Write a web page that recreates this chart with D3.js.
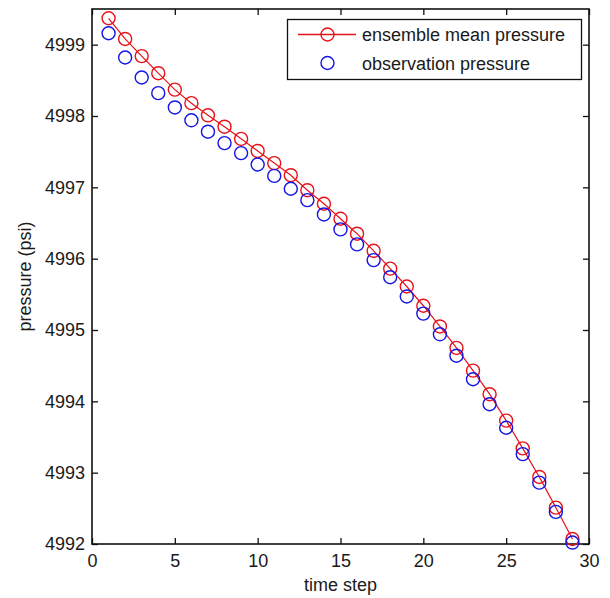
<!DOCTYPE html>
<html>
<head>
<meta charset="utf-8">
<script src="https://cdn.jsdelivr.net/npm/d3@7"></script>
<style>
  body { margin: 0; background: #fff; }
  text { font-family: "Liberation Sans", Arial, sans-serif; fill: #1a1a1a; }
</style>
</head>
<body>
<svg id="svg" width="610" height="598"></svg>
<script>
// time steps
const timeSteps = d3.range(1, 30);
// ensemble mean pressure (psi)
const ensembleMean = [
  4999.37, 4999.08, 4998.84, 4998.60, 4998.37, 4998.18, 4998.01, 4997.85,
  4997.68, 4997.51, 4997.34, 4997.17, 4996.96, 4996.77, 4996.56, 4996.35,
  4996.11, 4995.86, 4995.61, 4995.34, 4995.05, 4994.75, 4994.43, 4994.10,
  4993.73, 4993.34, 4992.94, 4992.51, 4992.07
];
// observation pressure (psi)
const observation = [
  4999.16, 4998.82, 4998.54, 4998.32, 4998.12, 4997.94, 4997.78, 4997.62,
  4997.48, 4997.32, 4997.16, 4996.98, 4996.82, 4996.62, 4996.41, 4996.20,
  4995.98, 4995.74, 4995.47, 4995.23, 4994.94, 4994.64, 4994.31, 4993.96,
  4993.63, 4993.26, 4992.86, 4992.45, 4992.02
];
const xTicks = [0, 5, 10, 15, 20, 25, 30];
const yTicks = [4992, 4993, 4994, 4995, 4996, 4997, 4998, 4999];
const legendLabels = ["ensemble mean pressure", "observation pressure"];

const svg = d3.select("#svg");
const plotLeft = 92, plotTop = 9, plotRight = 589, plotBottom = 544;

const x = d3.scaleLinear().domain([0, 30]).range([plotLeft, plotRight]);
const y = d3.scaleLinear().domain([4992, 4999.5]).range([plotBottom, plotTop]);

//軸
const fontSize = 18;
const tick = 6;
svg.append("g")
  .attr("transform", `translate(0,${plotBottom})`)
  .call(d3.axisBottom(x).tickValues(xTicks).tickSize(-tick).tickPadding(10).tickFormat(d3.format("d")))
  .call(g => g.select(".domain").remove())
  .call(g => g.selectAll("text").attr("font-size", fontSize).attr("font-family", null))
  .call(g => g.selectAll("line").attr("stroke", "#111").attr("stroke-width", 1.3));
svg.append("g")
  .attr("transform", `translate(0,${plotTop})`)
  .call(d3.axisTop(x).tickValues(xTicks).tickSize(-tick).tickFormat(""))
  .call(g => g.select(".domain").remove())
  .call(g => g.selectAll("line").attr("stroke", "#111").attr("stroke-width", 1.3));
svg.append("g")
  .attr("transform", `translate(${plotLeft},0)`)
  .call(d3.axisLeft(y).tickValues(yTicks).tickSize(-tick).tickPadding(7).tickFormat(d3.format("d")))
  .call(g => g.select(".domain").remove())
  .call(g => g.selectAll("text").attr("font-size", fontSize).attr("font-family", null))
  .call(g => g.selectAll("line").attr("stroke", "#111").attr("stroke-width", 1.3));
svg.append("g")
  .attr("transform", `translate(${plotRight},0)`)
  .call(d3.axisRight(y).tickValues(yTicks).tickSize(-tick).tickFormat(""))
  .call(g => g.select(".domain").remove())
  .call(g => g.selectAll("line").attr("stroke", "#111").attr("stroke-width", 1.3));

//枠
svg.append("rect")
  .attr("x", plotLeft).attr("y", plotTop)
  .attr("width", plotRight - plotLeft).attr("height", plotBottom - plotTop)
  .attr("fill", "none").attr("stroke", "#111").attr("stroke-width", 1.6);

//軸ラベル
svg.append("text")
  .attr("x", (plotLeft + plotRight) / 2).attr("y", 591)
  .attr("text-anchor", "middle").attr("font-size", fontSize)
  .text("time step");
svg.append("text")
  .attr("transform", `translate(31,${(plotTop + plotBottom) / 2}) rotate(-90)`)
  .attr("text-anchor", "middle").attr("font-size", fontSize)
  .text("pressure (psi)");

//データ
const r = 6.5;
const line = d3.line().x((d, i) => x(timeSteps[i])).y(d => y(d));
svg.append("path")
  .datum(ensembleMean)
  .attr("d", line)
  .attr("fill", "none").attr("stroke", "#e8121a").attr("stroke-width", 1.2);
svg.append("g").selectAll("circle")
  .data(ensembleMean).join("circle")
  .attr("cx", (d, i) => x(timeSteps[i])).attr("cy", d => y(d)).attr("r", r)
  .attr("fill", "none").attr("stroke", "#e8121a").attr("stroke-width", 1.4);
svg.append("g").selectAll("circle")
  .data(observation).join("circle")
  .attr("cx", (d, i) => x(timeSteps[i])).attr("cy", d => y(d)).attr("r", r)
  .attr("fill", "none").attr("stroke", "#1414e6").attr("stroke-width", 1.4);

//凡例
const legend = svg.append("g");
legend.append("rect")
  .attr("x", 287.5).attr("y", 19.5).attr("width", 294).attr("height", 60)
  .attr("fill", "#fff").attr("stroke", "#111").attr("stroke-width", 1.3);
legend.append("line")
  .attr("x1", 298).attr("x2", 356).attr("y1", 34.5).attr("y2", 34.5)
  .attr("stroke", "#e8121a").attr("stroke-width", 1.4);
legend.append("circle")
  .attr("cx", 327.5).attr("cy", 34.5).attr("r", r)
  .attr("fill", "none").attr("stroke", "#e8121a").attr("stroke-width", 1.4);
legend.append("circle")
  .attr("cx", 327.5).attr("cy", 63).attr("r", r)
  .attr("fill", "none").attr("stroke", "#1414e6").attr("stroke-width", 1.4);
legend.selectAll("text.lab")
  .data(legendLabels).join("text")
  .attr("class", "lab")
  .attr("x", 362).attr("y", (d, i) => 41 + i * 28.5)
  .attr("font-size", fontSize)
  .text(d => d);
</script>
</body>
</html>
